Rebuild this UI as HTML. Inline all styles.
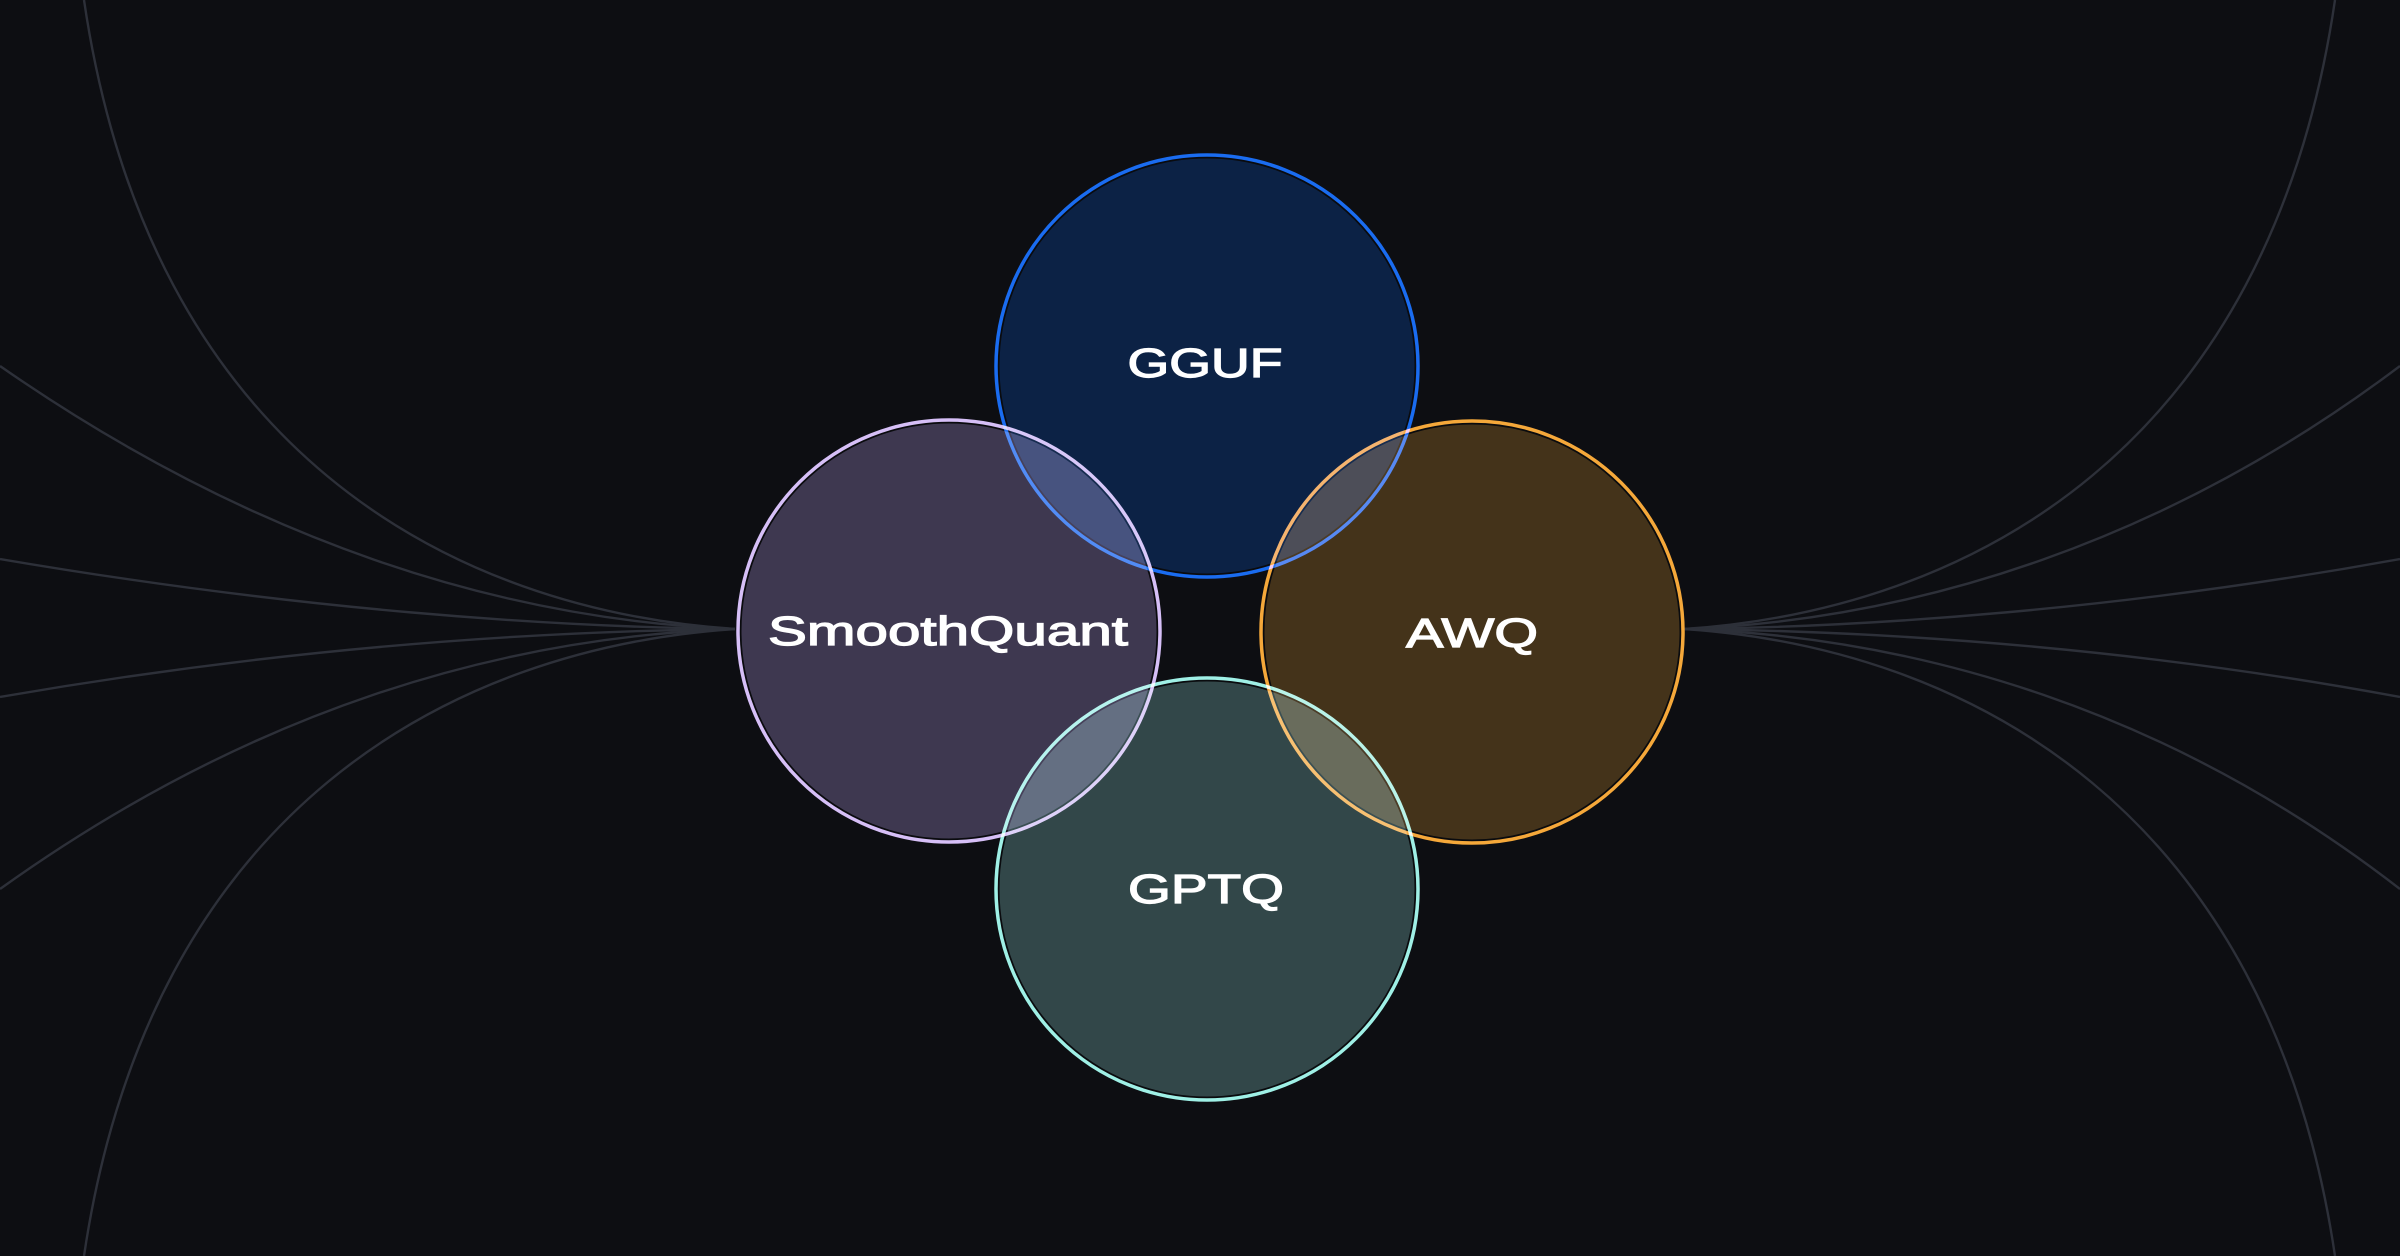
<!DOCTYPE html>
<html><head><meta charset="utf-8"><style>
html,body{margin:0;padding:0;background:#0d0e12;}
svg{display:block;}
text{font-family:"Liberation Sans",sans-serif;font-weight:normal;fill:#fff;stroke:#fff;stroke-width:1.2;font-size:41px;}
</style></head><body>
<svg width="2400" height="1256" viewBox="0 0 2400 1256" xmlns="http://www.w3.org/2000/svg">
<rect width="2400" height="1256" fill="#0d0e12"/>
<g fill="none" stroke="#2d3039" stroke-width="2.4">
<path d="M84 0 C150 450,450 610,735 629"/>
<path d="M0 366 C250 540,500 620,735 629"/>
<path d="M0 559 C300 610,550 627,735 629"/>
<path d="M0 697 C300 645,550 631,735 629"/>
<path d="M0 889 C250 710,500 637,735 629"/>
<path d="M84 1256 C150 810,450 648,735 629"/>
<g transform="translate(2419,0) scale(-1,1)">
<path d="M84 0 C150 450,450 610,735 629"/>
<path d="M19 366 C250 540,500 620,735 629"/>
<path d="M19 559 C300 610,550 627,735 629"/>
<path d="M19 697 C300 645,550 631,735 629"/>
<path d="M19 889 C250 710,500 637,735 629"/>
<path d="M84 1256 C150 810,450 648,735 629"/>
</g>
</g>
<g style="isolation:isolate">
<g style="mix-blend-mode:screen">
<circle cx="1207" cy="366" r="209" fill="#0c2245" stroke="#0a0b0e" stroke-width="3"/>
<circle cx="1207" cy="366" r="211" fill="none" stroke="#1a6cf0" stroke-width="3.5"/>
</g>
<g style="mix-blend-mode:screen">
<circle cx="949" cy="631" r="209" fill="#3e3850" stroke="#0a0b0e" stroke-width="3"/>
<circle cx="949" cy="631" r="211" fill="none" stroke="#d6bff7" stroke-width="3.5"/>
</g>
<g style="mix-blend-mode:screen">
<circle cx="1472" cy="632" r="209" fill="#44331a" stroke="#0a0b0e" stroke-width="3"/>
<circle cx="1472" cy="632" r="211" fill="none" stroke="#f5a83a" stroke-width="3.5"/>
</g>
<g style="mix-blend-mode:screen">
<circle cx="1207" cy="889" r="209" fill="#324749" stroke="#0a0b0e" stroke-width="3"/>
<circle cx="1207" cy="889" r="211" fill="none" stroke="#9ff0e6" stroke-width="3.5"/>
</g>
</g>
<text x="1205" y="377" text-anchor="middle" textLength="155" lengthAdjust="spacingAndGlyphs">GGUF</text>
<text x="948" y="645" text-anchor="middle" textLength="360" lengthAdjust="spacingAndGlyphs">SmoothQuant</text>
<text x="1472" y="647" text-anchor="middle" textLength="132" lengthAdjust="spacingAndGlyphs">AWQ</text>
<text x="1206" y="903" text-anchor="middle" textLength="156" lengthAdjust="spacingAndGlyphs">GPTQ</text>
</svg>
</body></html>
